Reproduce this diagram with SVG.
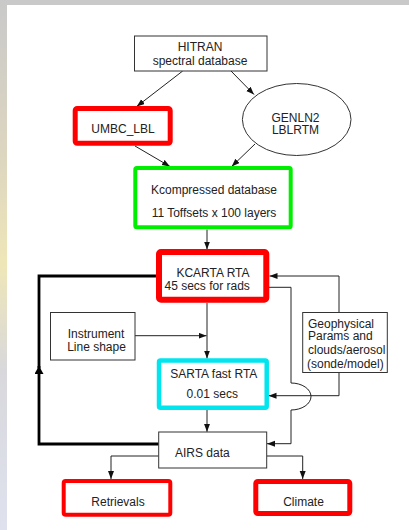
<svg xmlns="http://www.w3.org/2000/svg" width="409" height="530" viewBox="0 0 409 530">
<defs>
<linearGradient id="bgl" x1="0" y1="0" x2="0" y2="1">
<stop offset="0" stop-color="#c9c9c9"/>
<stop offset="0.3" stop-color="#ddd6c0"/>
<stop offset="0.5" stop-color="#efe6b8"/>
<stop offset="0.7" stop-color="#d8d8dc"/>
<stop offset="1" stop-color="#dfe2ee"/>
</linearGradient>
<marker id="ah" markerUnits="userSpaceOnUse" markerWidth="9" markerHeight="7" refX="8" refY="3" orient="auto">
<path d="M0,0 L8,3 L0,6 z" fill="#111"/>
</marker>
<marker id="ahb" markerUnits="userSpaceOnUse" markerWidth="10" markerHeight="10" refX="8" refY="4.5" orient="auto">
<path d="M0,0 L8,4.5 L0,9 z" fill="#000"/>
</marker>
</defs>
<style>
text{font-family:"Liberation Sans",Arial,sans-serif;font-size:12px;fill:#222;text-anchor:middle}
.thin{fill:#fff;stroke:#333;stroke-width:1}
.red{fill:#fff;stroke:#ff0000}
.conn{fill:none;stroke:#222;stroke-width:1}
</style>
<rect x="0" y="0" width="409" height="530" fill="#c9c9c9"/>
<rect x="0" y="0" width="7" height="530" fill="url(#bgl)"/>
<rect x="7" y="5" width="402" height="525" fill="#fff"/>

<g id="connectors">
<path class="conn" d="M182.7,71 L136.7,106.5" marker-end="url(#ah)"/>
<path class="conn" d="M231,71 L254,94.5" marker-end="url(#ah)"/>
<path class="conn" d="M135,146 L170,166.5" marker-end="url(#ah)"/>
<path class="conn" d="M255,144 L231.7,166.5" marker-end="url(#ah)"/>
<path class="conn" d="M207,229.5 L207,249.5" marker-end="url(#ah)"/>
<path class="conn" d="M207,303 L207,358.5" marker-end="url(#ah)"/>
<path class="conn" d="M135,335.7 L206.5,335.7" marker-end="url(#ah)"/>
<path class="conn" d="M207,410 L207,431.8" marker-end="url(#ah)"/>
<path class="conn" d="M339,312.5 L339,276 L269.5,276" marker-end="url(#ah)"/>
<path class="conn" d="M269,287.3 L291,287.3 L291,383 A20,13.5 0 0 1 291,410 L291,443.7 L267,443.7" marker-end="url(#ah)"/>
<path class="conn" d="M339,372.5 L339,395.7 L268.5,395.7" marker-end="url(#ah)"/>
<path class="conn" d="M158.7,456 L111,456 L111,479" marker-end="url(#ah)"/>
<path class="conn" d="M266.7,456 L302.7,456 L302.7,479" marker-end="url(#ah)"/>
<path fill="none" stroke="#000" stroke-width="2.8" d="M158.7,444 L39,444 L39,366" marker-end="url(#ahb)"/>
<path fill="none" stroke="#000" stroke-width="2.8" d="M39,368 L39,276 L158,276"/>
</g>

<g id="hitran">
<rect class="thin" x="134.5" y="36" width="132.5" height="35"/>
<text x="200" y="51.3">HITRAN</text>
<text x="200" y="65.3">spectral database</text>
</g>

<g id="umbc_lbl">
<rect class="red" stroke-width="5" x="75.2" y="108.5" width="95" height="34.7" rx="2"/>
<text x="123" y="133">UMBC_LBL</text>
</g>

<g id="genln2">
<ellipse cx="296.7" cy="119.5" rx="54.3" ry="36" fill="#fff" stroke="#333" stroke-width="1"/>
<text x="295.5" y="121.5">GENLN2</text>
<text x="295.5" y="134.3">LBLRTM</text>
</g>

<g id="kcompressed">
<rect x="135.3" y="168" width="155.4" height="59.3" rx="1.5" fill="#fff" stroke="#00ee00" stroke-width="4"/>
<text x="214" y="193.5">Kcompressed database</text>
<text x="214" y="217">11 Toffsets x 100 layers</text>
</g>

<g id="kcarta">
<rect class="red" stroke-width="6" x="159" y="252" width="107.3" height="47.7" rx="2"/>
<text x="213" y="277">KCARTA RTA</text>
<text x="207.2" y="289.5">45 secs for rads</text>
</g>

<g id="instrument">
<rect class="thin" x="50.5" y="312.5" width="84.5" height="47.5"/>
<text x="96" y="337.6">Instrument</text>
<text x="96.5" y="351">Line shape</text>
</g>

<g id="geophysical">
<rect class="thin" x="302.7" y="312.5" width="84.6" height="60"/>
<text x="308" y="327.5" style="text-anchor:start">Geophysical</text>
<text x="308" y="340.3" style="text-anchor:start">Params and</text>
<text x="308" y="354.3" style="text-anchor:start">clouds/aerosol</text>
<text x="307" y="367.6" style="text-anchor:start">(sonde/model)</text>
</g>

<g id="sarta">
<rect x="159" y="360.5" width="107.7" height="47.3" rx="1.5" fill="#fff" stroke="#00e5ee" stroke-width="4.5"/>
<text x="213.8" y="377.6">SARTA fast RTA</text>
<text x="212.3" y="397.6">0.01 secs</text>
</g>

<g id="airs">
<rect class="thin" x="158.7" y="432" width="108" height="36"/>
<text x="202.3" y="457">AIRS data</text>
</g>

<g id="retrievals">
<rect class="red" stroke-width="4" x="63.7" y="481" width="106.6" height="33.7" rx="2"/>
<text x="118" y="506">Retrievals</text>
</g>

<g id="climate">
<rect class="red" stroke-width="5" x="255.8" y="481.5" width="94" height="32" rx="2"/>
<text x="303.5" y="506">Climate</text>
</g>
</svg>
